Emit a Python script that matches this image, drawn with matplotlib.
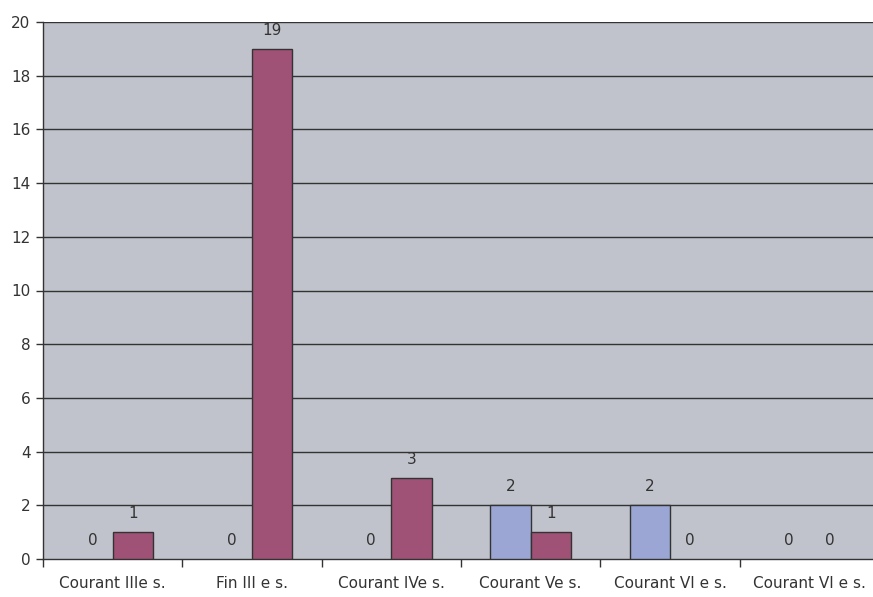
import matplotlib

matplotlib.use("Agg")
import matplotlib.pyplot as plt
import numpy as np

categories = [
    "Courant IIIe s.",
    "Fin III e s.",
    "Courant IVe s.",
    "Courant Ve s.",
    "Courant VI e s.",
    "Courant VI e s.",
]
series_blue = [0, 0, 0, 2, 2, 0]
series_mauve = [1, 19, 3, 1, 0, 0]
y_ticks = [0, 2, 4, 6, 8, 10, 12, 14, 16, 18, 20]

BG = "#C0C3CC"
BLUE = "#9BA6D4"
MAUVE = "#A05276"
EDGE = "#333333"
TEXT = "#333333"

fig = plt.figure(figsize=(8.73, 5.97), dpi=100)
# plot area runs slightly past the right edge of the image, as in the source
ax = fig.add_axes([43 / 873, 38 / 597, 836 / 873, 537 / 597])
ax.set_facecolor(BG)

x = np.arange(len(categories))
w = 0.29
bars_b = ax.bar(x - w / 2, series_blue, width=w, color=BLUE, edgecolor=EDGE,
                linewidth=1, zorder=3)
bars_m = ax.bar(x + w / 2, series_mauve, width=w, color=MAUVE, edgecolor=EDGE,
                linewidth=1, zorder=3)

for bars, vals in ((bars_b, series_blue), (bars_m, series_mauve)):
    for b, v in zip(bars, vals):
        if v == 0:
            b.set_linewidth(0)
        ax.annotate(str(v), (b.get_x() + b.get_width() / 2, v),
                    xytext=(0, 13.5), textcoords="offset points",
                    ha="center", va="center", fontsize=11, color=TEXT)

ax.set_xlim(-0.5, len(categories) - 0.5)
ax.set_ylim(0, 20)
ax.set_yticks(y_ticks)
for t in y_ticks[1:]:
    ax.axhline(t, color=EDGE, linewidth=1, zorder=1)

ax.set_xticks(np.arange(len(categories) + 1) - 0.5, minor=False)
ax.set_xticklabels([])
ax.set_xticks(x, minor=True)
ax.set_xticklabels(categories, minor=True)
ax.tick_params(axis="x", which="major", length=6, color=EDGE, width=1)
ax.tick_params(axis="x", which="minor", length=0, pad=12, labelsize=11,
               labelcolor=TEXT)
ax.tick_params(axis="y", length=5, color=EDGE, width=1, labelsize=11,
               labelcolor=TEXT, pad=4)

for side in ("top", "right"):
    ax.spines[side].set_visible(False)
for side in ("left", "bottom"):
    ax.spines[side].set_color(EDGE)
    ax.spines[side].set_linewidth(1)

fig.savefig("out.png", dpi=100)
